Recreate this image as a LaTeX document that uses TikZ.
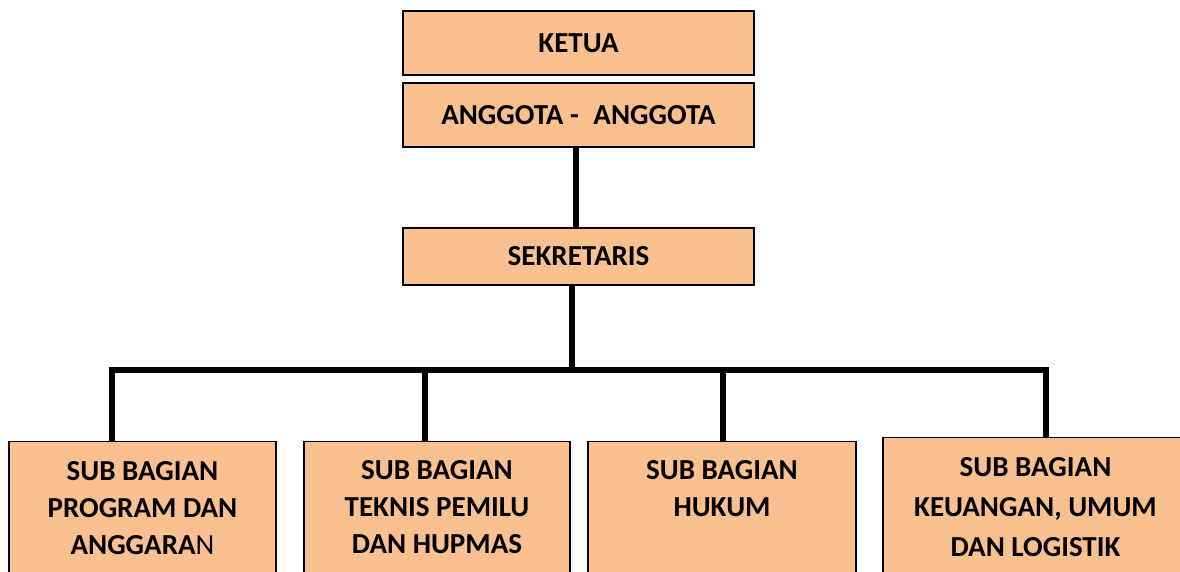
\documentclass[tikz,border=0pt]{standalone}
\usepackage{fontspec}
\setmainfont{Carlito}
\definecolor{boxfill}{RGB}{250,192,143}

\begin{document}
\begin{tikzpicture}[x=1pt,y=-1pt,
  box/.style={draw,line width=1.2pt,fill=boxfill,inner sep=0pt},
  head/.style={box,minimum width=351pt,font=\fontsize{29}{35}\selectfont\bfseries},
  unit/.style={box,anchor=north,minimum height=150pt},
  caption/.style={anchor=north,align=center,inner sep=0pt,font=\fontsize{29}{37}\selectfont\bfseries},
  link/.style={line width=6pt}]
\useasboundingbox (0,0) rectangle (1180,571);
\clip (0,0) rectangle (1180,571);
\node [head,minimum height=64pt] (ketua) at (578.5,43) {KETUA};
\node [head,minimum height=64pt] (anggota) at (578.5,115) {ANGGOTA -\hspace{0.5em}ANGGOTA};
\node [head,minimum height=57pt] (sekretaris) at (578.5,256.5) {SEKRETARIS};
\node [unit,minimum width=267pt] (sub1) at (142.5,441) {};
\node [unit,minimum width=266pt] (sub2) at (437,441) {};
\node [unit,minimum width=268pt] (sub3) at (722,441) {};
\node [unit,minimum width=305pt] (sub4) at (1035.5,437) {};
\node [caption] (t1) at ([yshift=-20pt]sub1.north) {SUB BAGIAN\\PROGRAM DAN\\ANGGARA\textmd{N}};
\node [caption] (t2) at ([yshift=-19pt]sub2.north) {SUB BAGIAN\\TEKNIS PEMILU\\DAN HUPMAS};
\node [caption] (t3) at ([yshift=-19pt]sub3.north) {SUB BAGIAN\\HUKUM};
\node [caption,font=\fontsize{29}{40}\selectfont\bfseries] (t4) at ([yshift=-20pt]sub4.north) {SUB BAGIAN\\KEUANGAN, UMUM\\DAN LOGISTIK};
\coordinate (hub) at (572,370);
\draw [link] ([xshift=-2.5pt]anggota.south) -- ([xshift=-2.5pt]sekretaris.north);
\draw [link] ([xshift=-6.5pt]sekretaris.south) -- (hub);
\draw [link] ([xshift=-30.5pt]sub1.north) |- (hub) -| ([xshift=10pt]sub4.north);
\draw [link] ([xshift=-12pt]sub2.north) -- ([xshift=-12pt]sub2.north |- hub);
\draw [link] ([xshift=0.5pt]sub3.north) -- ([xshift=0.5pt]sub3.north |- hub);
\end{tikzpicture}
\end{document}
